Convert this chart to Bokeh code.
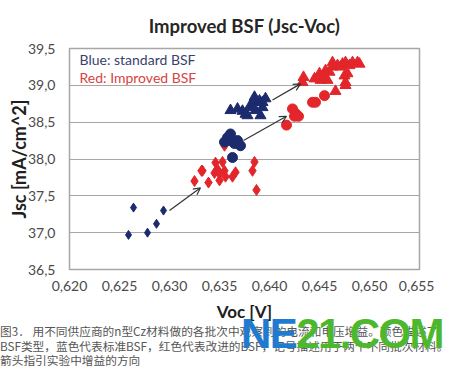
from bokeh.plotting import figure
from bokeh.models import Range1d, FixedTicker, Arrow, OpenHead, Label, ColumnDataSource, Div
from bokeh.layouts import column
from bokeh.embed import file_html
from bokeh.resources import INLINE

# ---- data ----
x_ticks = [0.620, 0.625, 0.630, 0.635, 0.640, 0.645, 0.650, 0.655]
x_tick_labels = ["0,620", "0,625", "0,630", "0,635", "0,640", "0,645", "0,650", "0,655"]
y_ticks = [36.5, 37.0, 37.5, 38.0, 38.5, 39.0, 39.5]
y_tick_labels = ["36,5", "37,0", "37,5", "38,0", "38,5", "39,0", "39,5"]

blue_dia_voc = [0.6264, 0.6259, 0.6278, 0.6287, 0.6294]
blue_dia_jsc = [37.34, 36.97, 37.00, 37.12, 37.30]

red_dia_voc = [0.6355, 0.6346, 0.6353, 0.6333, 0.6325, 0.6339, 0.6345, 0.6350, 0.6355,
               0.6350, 0.6356, 0.6363, 0.6366, 0.6385, 0.6383, 0.6387, 0.6332, 0.6348]
red_dia_jsc = [38.18, 37.95, 37.96, 37.84, 37.70, 37.68, 37.81, 37.80, 37.84,
               37.71, 37.76, 37.76, 37.82, 37.96, 37.84, 37.58, 37.84, 37.86]

blue_circ_voc = [0.6361, 0.6358, 0.6368, 0.6371, 0.6365, 0.6355, 0.6363, 0.6360]
blue_circ_jsc = [38.34, 38.29, 38.25, 38.18, 38.21, 38.23, 38.02, 38.25]

red_circ_voc = [0.6417, 0.6423, 0.6429, 0.6426, 0.6425, 0.6443, 0.6446, 0.6455]
red_circ_jsc = [38.46, 38.68, 38.58, 38.62, 38.58, 38.77, 38.77, 38.86]

blue_tri_voc = [0.6361, 0.6368, 0.6373, 0.6376, 0.6381, 0.6385, 0.6386, 0.6390,
                0.6393, 0.6396, 0.6391, 0.6386, 0.6378, 0.6393, 0.6383]
blue_tri_jsc = [38.66, 38.68, 38.65, 38.61, 38.73, 38.84, 38.77, 38.79,
                38.77, 38.82, 38.59, 38.66, 38.59, 38.70, 38.70]

red_tri_voc = [0.6434, 0.6433, 0.6445, 0.6450, 0.6451, 0.6455, 0.6458, 0.6463, 0.6463,
               0.6468, 0.6471, 0.6473, 0.6476, 0.6480, 0.6483, 0.6488, 0.6490, 0.6475,
               0.6478, 0.6476, 0.6476, 0.6466, 0.6460, 0.6456]
red_tri_jsc = [39.11, 39.04, 39.09, 39.16, 39.07, 39.11, 39.07, 39.31, 39.25,
               39.27, 39.25, 39.29, 39.31, 39.27, 39.31, 39.31, 39.29, 39.13,
               39.16, 39.04, 39.00, 38.92, 39.18, 39.20]

arrow_x_start = [0.6300, 0.6374, 0.6403]
arrow_y_start = [37.30, 38.25, 38.80]
arrow_x_end = [0.6331, 0.6417, 0.6431]
arrow_y_end = [37.61, 38.58, 39.02]

title_text = "Improved BSF (Jsc-Voc)"
legend_blue = "Blue: standard BSF"
legend_red = "Red: Improved BSF"
caption_lines = [
    "图3． 用不同供应商的n型Cz材料做的各批次中观察到的电流和电压增益。颜色描述了",
    "BSF类型，蓝色代表标准BSF，红色代表改进的BSF，记号描述用于两个不同批次材料。",
    "箭头指引实验中增益的方向",
]
watermark_parts = ["NE", "21.COM"]

NAVY = "#1C2B6E"
RED = "#E3262B"
FONT = "Lato"

p = figure(width=434, height=324, output_backend="svg", toolbar_location=None,
           x_range=Range1d(0.620, 0.655), y_range=Range1d(36.5, 39.5),
           min_border_left=69, min_border_right=15, min_border_top=48, min_border_bottom=55)
p.background_fill_color = "white"
p.border_fill_color = "white"
p.outline_line_color = "#A6A6A6"
p.outline_line_width = 1.5

p.xgrid.visible = False
p.ygrid.grid_line_color = "#A6A6A6"
p.ygrid.grid_line_width = 1.2

p.xaxis.ticker = FixedTicker(ticks=x_ticks)
p.yaxis.ticker = FixedTicker(ticks=y_ticks)
p.xaxis.major_label_overrides = {t: l for t, l in zip(x_ticks, x_tick_labels)}
p.yaxis.major_label_overrides = {t: l for t, l in zip(y_ticks, y_tick_labels)}
for ax in (p.xaxis, p.yaxis):
    ax.axis_line_color = None
    ax.major_tick_line_color = None
    ax.minor_tick_line_color = None
    ax.major_tick_out = 0
    ax.major_tick_in = 0
    ax.minor_tick_out = 0
    ax.minor_tick_in = 0
    ax.major_label_text_font = FONT
    ax.major_label_text_font_size = "14px"
    ax.major_label_text_color = "#4A4A4A"
    ax.axis_label_text_font = FONT
    ax.axis_label_text_font_style = "bold"
    ax.axis_label_text_color = "#202020"
p.xaxis.axis_label_text_font_size = "17px"
p.yaxis.axis_label_text_font_size = "18px"
p.xaxis.major_label_standoff = 11
p.yaxis.major_label_standoff = 14
p.xaxis.axis_label = "Voc [V]"
p.yaxis.axis_label = "Jsc [mA/cm^2]"
p.xaxis.axis_label_standoff = 7
p.yaxis.axis_label_standoff = -5

p.title.text = title_text
p.title.align = "center"
p.title.text_font = FONT
p.title.text_font_size = "18.5px"
p.title.text_font_style = "bold"
p.title.text_color = "#262626"
p.title.offset = -10
p.title.standoff = 24

p.scatter(blue_dia_voc, blue_dia_jsc, marker="diamond", size=9, color=NAVY)
p.scatter(red_dia_voc, red_dia_jsc, marker="diamond", size=11, color=RED)
p.scatter(red_circ_voc, red_circ_jsc, marker="circle", size=10, color=RED)
p.scatter(red_tri_voc, red_tri_jsc, marker="triangle", size=11, color=RED)
p.scatter(blue_circ_voc, blue_circ_jsc, marker="circle", size=10, color=NAVY)
p.scatter(blue_tri_voc, blue_tri_jsc, marker="triangle", size=11, color=NAVY)

asrc = ColumnDataSource(dict(xs=arrow_x_start, ys=arrow_y_start, xe=arrow_x_end, ye=arrow_y_end))
p.add_layout(Arrow(x_start="xs", y_start="ys", x_end="xe", y_end="ye", source=asrc,
                   line_color="#333333", line_width=1.2,
                   end=OpenHead(size=7, line_color="#333333", line_width=1.2)))

p.add_layout(Label(x=0.621, y=39.35, text=legend_blue, text_font=FONT, text_font_size="14px",
                   text_color="#3A3F6E", text_baseline="middle"))
p.add_layout(Label(x=0.621, y=39.11, text=legend_red, text_font=FONT, text_font_size="14px",
                   text_color="#D9433E", text_baseline="middle"))

caption_html = "<br>".join(caption_lines)
html = (
    '<div style="position:relative;width:434px;height:39px;">'
    '<div style="position:absolute;left:0;top:0px;font-family:\'Noto Sans CJK SC\';'
    'font-size:11.7px;line-height:14.5px;color:#555555;white-space:nowrap;">'
    + caption_html +
    '</div>'
    '<div style="position:absolute;left:241px;top:-11px;font-family:\'Liberation Sans\';'
    'font-weight:bold;font-size:42px;line-height:42px;letter-spacing:-1.6px;white-space:nowrap;">'
    '<span style="color:#1F7BD0;">' + watermark_parts[0] + '</span>'
    '<span style="color:#4CB82E;">' + watermark_parts[1] + '</span>'
    '</div></div>'
)
caption = Div(text=html, width=434, height=39, margin=0, styles={"overflow": "visible"})

layout = column(p, caption, spacing=0)
open("out.html", "w").write(file_html(layout, INLINE))
